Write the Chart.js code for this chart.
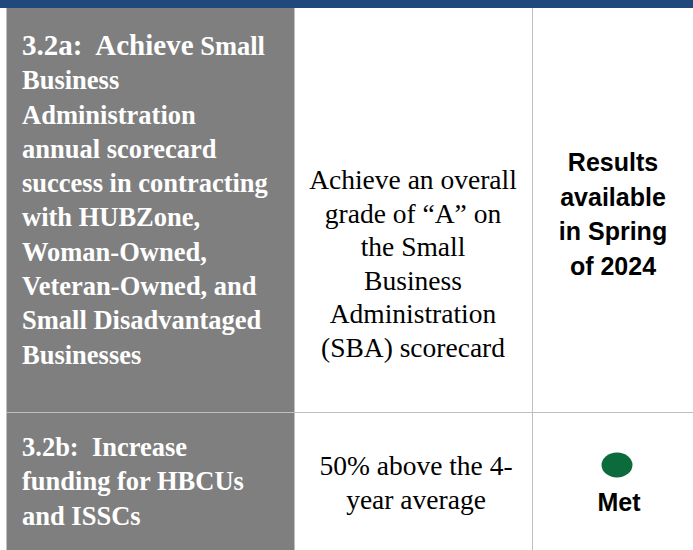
<!DOCTYPE html>
<html>
<head>
<meta charset="utf-8">
<script src="https://cdn.jsdelivr.net/npm/chart.js"></script>
<style>
  html, body { margin: 0; padding: 0; background: #fff; }
  body { width: 693px; height: 550px; position: relative; overflow: hidden; }
  .abs { position: absolute; }
  .band { left: 0; top: 0; width: 693px; height: 8px; background: #1f497d; }
  .gray { background: #7f7f7f; }
  .vline { width: 1px; background: #bfbfbf; }
  .hline { height: 1px; background: #bfbfbf; }
  .goal { left: 22px; color: #fff; font-family: "Liberation Serif", serif; font-weight: bold; font-size: 26.5px; line-height: 34.3px; white-space: nowrap; }
  .goal .big { font-size: 29px; }
  .target { text-align: center; color: #000; font-family: "Liberation Serif", serif; font-size: 27.5px; line-height: 33.6px; white-space: nowrap; }
  .result { text-align: center; color: #000; font-family: "Liberation Sans", sans-serif; font-weight: bold; font-size: 25px; line-height: 34.7px; white-space: nowrap; }
  #dot { left: 537px; top: 445px; }
</style>
</head>
<body>
<div class="abs band"></div>
<div class="abs gray" style="left:7px;top:8px;width:287px;height:404px"></div>
<div class="abs gray" style="left:7px;top:413px;width:287px;height:137px"></div>
<div class="abs vline" style="left:6px;top:8px;height:542px"></div>
<div class="abs vline" style="left:294px;top:8px;height:542px"></div>
<div class="abs vline" style="left:532px;top:8px;height:542px"></div>
<div class="abs hline" style="left:6px;top:412px;width:687px"></div>

<div id="cells"></div>
<canvas id="dot" class="abs" width="160" height="40"></canvas>

<script>
// table contents
var goalIds = ["3.2a:", "3.2b:"];
var goalLines = [
    ["Achieve", "Small", "Business", "Administration", "annual scorecard", "success in contracting",
     "with HUBZone,", "Woman-Owned,", "Veteran-Owned, and", "Small Disadvantaged", "Businesses"],
    ["Increase", "", "funding for HBCUs", "and ISSCs"]
];
var targetLines = [
    ["Achieve an overall", "grade of \u201cA\u201d on", "the Small", "Business", "Administration", "(SBA) scorecard"],
    ["50% above the 4-", "year average"]
];
var resultLines = [
    ["Results", "available", "in Spring", "of 2024"],
    ["Met"]
];
// status dot: 1 = met, null = no marker
var statusMet = [null, 1];
var statusColor = "#0b6b3a";

var cells = document.getElementById("cells");
var goalTop = [28, 430];
var targetTop = [163, 449];
var targetCenter = [413, 416];
var resultTop = [145, 485];
var resultCenter = [613, 619];

function addCell(cls, top, html, center) {
    var d = document.createElement("div");
    d.className = "abs " + cls;
    d.style.top = top + "px";
    if (center != null) {
        d.style.left = (center - 150) + "px";
        d.style.width = "300px";
    }
    d.innerHTML = html;
    cells.appendChild(d);
}

goalIds.forEach(function (id, i) {
    var lines = goalLines[i];
    var head, rest;
    if (lines[1] != "") {
        // first word is set larger, like the reference
        head = '<span class="big">' + id + '&nbsp; ' + lines[0] + '</span> ' + lines[1];
    } else {
        head = id + '&nbsp; ' + lines[0];
    }
    rest = lines.slice(2);
    addCell("goal", goalTop[i], head + "<br>" + rest.join("<br>"));
    addCell("target", targetTop[i], targetLines[i].join("<br>"), targetCenter[i]);
    addCell("result", resultTop[i], resultLines[i].join("<br>"), resultCenter[i]);
});

// ellipse marker used as point style
var marker = document.createElement("canvas");
marker.width = 32;
marker.height = 26;
var mctx = marker.getContext("2d");
mctx.fillStyle = statusColor;
mctx.beginPath();
mctx.ellipse(16, 13, 15.5, 12.5, 0, 0, Math.PI * 2);
mctx.fill();

var pts = [];
statusMet.forEach(function (v, i) {
    if (v != null) pts.push({ x: 0, y: v });
});

new Chart("dot", {
    type: "scatter",
    data: {
        datasets: [{
            data: pts,
            pointStyle: marker,
            backgroundColor: statusColor
        }]
    },
    options: {
        responsive: false,
        animation: false,
        events: [],
        layout: { padding: 0 },
        plugins: { legend: { display: false }, tooltip: { enabled: false } },
        scales: {
            x: { display: false, min: -1, max: 1 },
            y: { display: false, min: 0, max: 2 }
        }
    }
});
</script>
</body>
</html>
